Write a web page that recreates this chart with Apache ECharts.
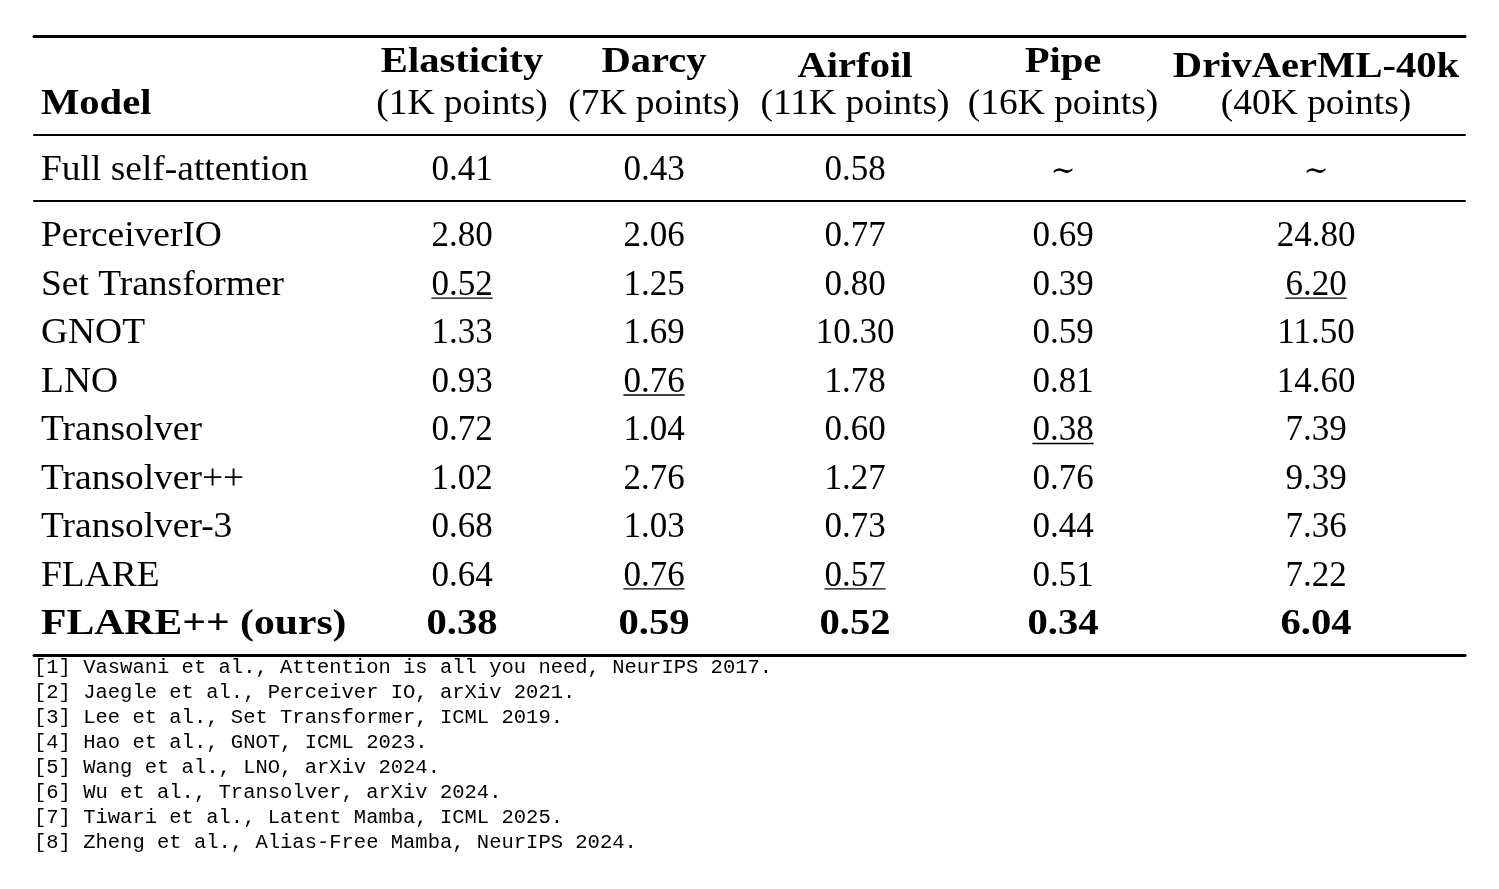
<!DOCTYPE html>
<html>
<head>
<meta charset="utf-8">
<script src="https://cdn.jsdelivr.net/npm/echarts@6/dist/echarts.min.js"></script>
<style>
    html, body { margin: 0; padding: 0; background: #ffffff; }
    #main { width: 1499px; height: 889px; }
</style>
</head>
<body>
<div id="main"></div>
<script>
// ---- table data ----
var columns = ['Elasticity', 'Darcy', 'Airfoil', 'Pipe', 'DrivAerML-40k'];
var pointCounts = ['(1K points)', '(7K points)', '(11K points)', '(16K points)', '(40K points)'];
var models = ['PerceiverIO', 'Set Transformer', 'GNOT', 'LNO', 'Transolver',
    'Transolver++', 'Transolver-3', 'FLARE', 'FLARE++ (ours)'];
var fullAttention = [0.41, 0.43, 0.58, null, null]; // null = not feasible (~)
var elasticity = [2.80, 0.52, 1.33, 0.93, 0.72, 1.02, 0.68, 0.64, 0.38];
var darcy = [2.06, 1.25, 1.69, 0.76, 1.04, 2.76, 1.03, 0.76, 0.59];
var airfoil = [0.77, 0.80, 10.30, 1.78, 0.60, 1.27, 0.73, 0.57, 0.52];
var pipe = [0.69, 0.39, 0.59, 0.81, 0.38, 0.76, 0.44, 0.51, 0.34];
var drivaer = [24.80, 6.20, 11.50, 14.60, 7.39, 9.39, 7.36, 7.22, 6.04];
var references = [
    '[1] Vaswani et al., Attention is all you need, NeurIPS 2017.',
    '[2] Jaegle et al., Perceiver IO, arXiv 2021.',
    '[3] Lee et al., Set Transformer, ICML 2019.',
    '[4] Hao et al., GNOT, ICML 2023.',
    '[5] Wang et al., LNO, arXiv 2024.',
    '[6] Wu et al., Transolver, arXiv 2024.',
    '[7] Tiwari et al., Latent Mamba, ICML 2025.',
    '[8] Zheng et al., Alias-Free Mamba, NeurIPS 2024.'
];

// ---- layout / style ----
var colX = [7, 428, 620, 821, 1029, 1282];   // model column left edge, then column centres
var tableW = 1431;
var SERIF = '"Liberation Serif", "DejaVu Serif", serif';
var MONO = '"Liberation Mono", "DejaVu Sans Mono", monospace';
var FS = 35;
var WORD_SCALE = 1.07, BOLD_SCALE = 1.16;
var TEXT_DY = 3;

var measureCtx = document.createElement('canvas').getContext('2d');
function textWidth(t, bold) {
    measureCtx.font = (bold ? 'bold ' : '') + FS + 'px ' + SERIF;
    return measureCtx.measureText(t).width * (bold ? BOLD_SCALE : 1);
}

function cellEl(p, t, o) {
    var dy = (o.family ? 0 : TEXT_DY) + (o.dy || 0);
    var els = [{
        type: 'text',
        x: p[0], y: p[1] + dy,
        scaleX: o.scale || 1,
        style: {
            text: t,
            fill: '#000',
            fontSize: o.size || FS,
            fontFamily: o.family || SERIF,
            fontWeight: o.bold ? 'bold' : 'normal',
            align: o.align || 'center',
            verticalAlign: 'middle'
        }
    }];
    if (o.under) {
        var w = textWidth(t, o.bold);
        els.push({
            type: 'line',
            shape: { x1: p[0] - w / 2, y1: p[1] + 15.5, x2: p[0] + w / 2, y2: p[1] + 15.5 },
            style: { stroke: '#000', lineWidth: 1.4 }
        });
    }
    return { type: 'group', children: els };
}

function fmt(v) { return v == null ? '\u223C' : v.toFixed(2); }

// second best (underlined) value per column
var bodyCols = [elasticity, darcy, airfoil, pipe, drivaer];
var secondBest = bodyCols.map(function (col) {
    var u = col.slice().sort(function (a, b) { return a - b; })
        .filter(function (v, i, a) { return i == 0 || v != a[i - 1]; });
    return u[1];
});
var oursRow = models.length - 1;

// header cells (titles without descenders sit a little lower, as in the source)
var headerData = [{ value: [colX[0], 1], text: 'Model', bold: true, align: 'left', scale: BOLD_SCALE }];
columns.forEach(function (c, i) {
    headerData.push({ value: [colX[i + 1], 0], text: c, bold: true, scale: BOLD_SCALE,
        dy: /[gjpqy]/.test(c) ? 0 : 5 });
    headerData.push({ value: [colX[i + 1], 1], text: pointCounts[i], scale: WORD_SCALE });
});

// full attention row
var fullData = [{ value: [colX[0], 0], text: 'Full self-attention', align: 'left', scale: WORD_SCALE }];
fullAttention.forEach(function (v, i) {
    fullData.push(v == null
        ? { value: [colX[i + 1], 0], text: fmt(v), size: 30, dy: 1 }
        : { value: [colX[i + 1], 0], text: fmt(v) });
});

// body rows
var bodyData = [];
models.forEach(function (m, r) {
    var bold = r == oursRow;
    bodyData.push({ value: [colX[0], r], text: m, bold: bold, align: 'left',
        scale: bold ? BOLD_SCALE + 0.03 : WORD_SCALE });
    bodyCols.forEach(function (col, c) {
        bodyData.push({ value: [colX[c + 1], r], text: fmt(col[r]), bold: bold,
            scale: bold ? BOLD_SCALE : 1, under: col[r] == secondBest[c] });
    });
});

// footnotes
var noteData = references.map(function (t, i) {
    return { value: [0, i], text: t, align: 'left', family: MONO, size: 20.5 };
});

function cellSeries(idx, data) {
    return {
        type: 'custom',
        xAxisIndex: idx, yAxisIndex: idx,
        data: data,
        encode: { x: 0, y: 1 },
        renderItem: function (params, api) {
            var d = data[params.dataIndex];
            var p = api.coord([api.value(0), api.value(1)]);
            return cellEl(p, d.text, d);
        }
    };
}

function ruleAxis(grid, pos, width, offset) {
    return {
        type: 'value', gridIndex: grid, position: pos, min: 0, max: tableW,
        offset: offset || 0,
        axisLine: { show: width > 0, lineStyle: { color: '#000', width: width } },
        axisTick: { show: false }, axisLabel: { show: false }, splitLine: { show: false }
    };
}
function rowAxis(grid, cats) {
    return {
        type: 'category', gridIndex: grid, data: cats, inverse: true,
        axisLine: { show: false }, axisTick: { show: false },
        axisLabel: { show: false }, splitLine: { show: false }
    };
}

var myChart = echarts.init(document.getElementById('main'), null, { renderer: 'canvas' });
var option = {
    backgroundColor: '#ffffff',
    animation: false,
    grid: [
        { left: 34, right: 34, top: 39, height: 84 },     // header
        { left: 34, right: 34, top: 135, height: 66 },    // full self-attention
        { left: 34, right: 34, top: 210, height: 436 },   // models
        { left: 34, right: 34, top: 655, height: 200 }    // references
    ],
    xAxis: [
        ruleAxis(0, 'top', 3, 3),
        ruleAxis(1, 'top', 2, 0),
        ruleAxis(2, 'top', 2, 9),
        ruleAxis(3, 'top', 0, 0),
        ruleAxis(2, 'bottom', 3, 9)
    ],
    yAxis: [
        rowAxis(0, ['title', 'points']),
        rowAxis(1, ['Full self-attention']),
        rowAxis(2, models),
        rowAxis(3, references)
    ],
    series: [
        cellSeries(0, headerData),
        cellSeries(1, fullData),
        cellSeries(2, bodyData),
        cellSeries(3, noteData)
    ]
};
myChart.setOption(option, true);
</script>
</body>
</html>
